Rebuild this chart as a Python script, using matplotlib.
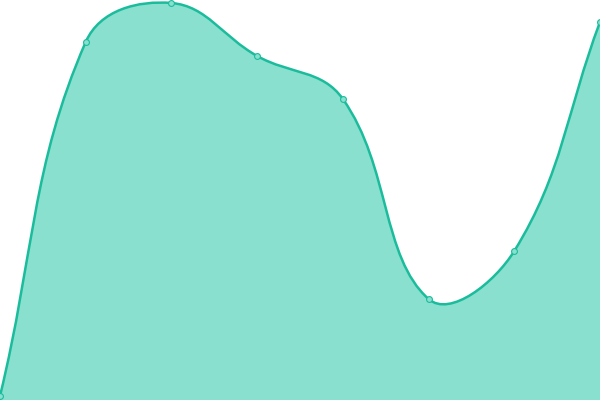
import numpy as np
import matplotlib
matplotlib.use("Agg")
import matplotlib.pyplot as plt
from matplotlib.path import Path
from matplotlib.patches import PathPatch

# data
x_vals = [0, 1, 2, 3, 4, 5, 6, 7]
y_vals = [4, 358, 397, 344, 301, 101, 149, 378]

line_color = '#1abc9c'
fill_color = '#8ae0cf'
tension = 0.4

# pixels per x step, so the spline distances are measured on screen
x_scale = 600 / 7


def spline_path(xs, ys, t=tension, close_to=None):
    # tension spline, control points capped to the plot area
    pts = np.column_stack([np.array(xs) * x_scale, ys]).astype(float)
    n = len(pts)
    cp_prev = []
    cp_next = []
    for i in range(n):
        prev = pts[max(i - 1, 0)]
        cur = pts[i]
        nxt = pts[min(i + 1, n - 1)]
        d01 = np.hypot(*(cur - prev))
        d12 = np.hypot(*(nxt - cur))
        s01 = d01 / (d01 + d12)
        s12 = d12 / (d01 + d12)
        cp_prev.append(cur - t * s01 * (nxt - prev))
        cp_next.append(cur + t * s12 * (nxt - prev))
    cp_prev = np.clip(np.array(cp_prev), [0, 0], [600, 400])
    cp_next = np.clip(np.array(cp_next), [0, 0], [600, 400])
    verts = [pts[0]]
    codes = [Path.MOVETO]
    for i in range(n - 1):
        verts += [cp_next[i], cp_prev[i + 1], pts[i + 1]]
        codes += [Path.CURVE4] * 3
    if close_to is not None:
        verts += [(pts[-1][0], close_to), (pts[0][0], close_to), pts[0]]
        codes += [Path.LINETO, Path.LINETO, Path.CLOSEPOLY]
    verts = np.array(verts)
    verts[:, 0] /= x_scale
    return Path(verts, codes)


fig = plt.figure(figsize=(6, 4), dpi=100)
ax = fig.add_axes([0, 0, 1, 1])
ax.set_xlim(0, 7)
ax.set_ylim(0, 400)
ax.axis('off')

ax.add_patch(PathPatch(spline_path(x_vals, y_vals, close_to=0),
                       facecolor=fill_color, edgecolor='none', zorder=1))
ax.add_patch(PathPatch(spline_path(x_vals, y_vals),
                       facecolor='none', edgecolor=line_color, lw=1.8, zorder=2))
ax.plot(x_vals, y_vals, 'o', ms=4.2, mfc=fill_color, mec=line_color, mew=0.8,
        zorder=3, clip_on=False)

fig.savefig('out.png', dpi=100)
